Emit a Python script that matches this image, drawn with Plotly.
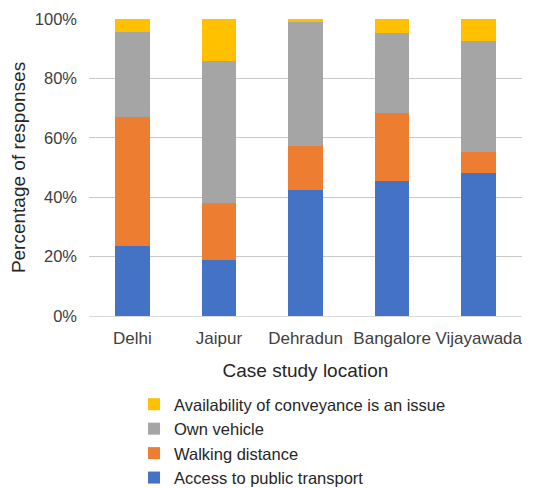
import plotly.graph_objects as go

locations = ["Delhi", "Jaipur", "Dehradun", "Bangalore", "Vijayawada"]
access_public = [23.6, 19.0, 42.5, 45.4, 48.0]
walking = [43.4, 19.1, 14.9, 23.1, 7.2]
own_vehicle = [28.6, 47.8, 41.7, 26.9, 37.4]
availability = [4.4, 14.1, 0.9, 4.6, 7.4]

series = [
    ("Access to public transport", access_public, "#4472C4"),
    ("Walking distance", walking, "#ED7D31"),
    ("Own vehicle", own_vehicle, "#A5A5A5"),
    ("Availability of conveyance is an issue", availability, "#FFC000"),
]

FONT = "Liberation Sans, Arial, sans-serif"

fig = go.Figure()
for name, vals, col in series:
    fig.add_trace(go.Bar(x=locations, y=vals, name=name, marker_color=col,
                         marker_line_width=0))

fig.update_layout(
    barmode="stack",
    bargap=0.6,
    width=526, height=480,
    margin=dict(l=81, r=12, t=11, b=172, autoexpand=False),
    plot_bgcolor="white", paper_bgcolor="white",
    font=dict(family=FONT, color="#595959"),
    legend=dict(
        orientation="v", traceorder="reversed",
        x=0.104, xanchor="left", y=-0.239, yanchor="top",
        font=dict(size=16.5, color="#262626"),
        itemwidth=30, tracegroupgap=0,
    ),
    xaxis=dict(
        tickfont=dict(size=17, color="#404040"),
        title=dict(text="Case study location", font=dict(size=19, color="#262626"), standoff=16),
        showline=False, ticks="", ticklabelstandoff=10,
    ),
    yaxis=dict(
        range=[0, 100], dtick=20, ticksuffix="%",
        tickfont=dict(size=16.5, color="#404040"),
        title=dict(text="Percentage of responses", font=dict(size=19, color="#262626"), standoff=5),
        gridcolor="#C8C8C8", gridwidth=1,
        zeroline=True, zerolinecolor="#D9D9D9", zerolinewidth=1,
        ticks="", ticklabelstandoff=11,
    ),
)

fig.write_html("out.html")
